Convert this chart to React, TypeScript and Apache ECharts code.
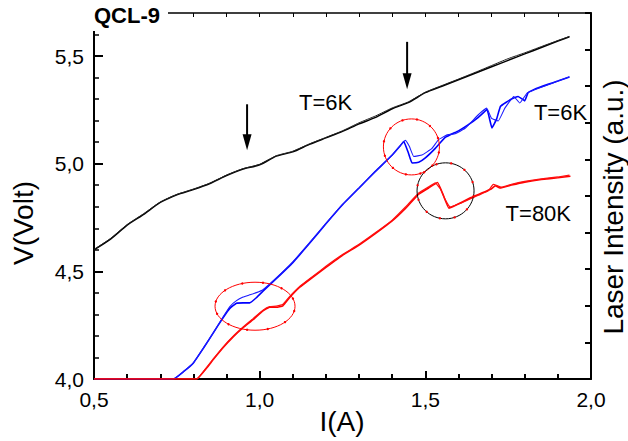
import React, { useEffect, useRef } from "react";
import * as echarts from "echarts";

// ---- data (I in A, V in Volt / laser intensity in a.u.) ----
const blackTraceA: number[][] = [
  [0.5, 4.6], [0.55, 4.65], [0.6, 4.715], [0.65, 4.765], [0.7, 4.82], [0.75, 4.856], [0.8, 4.88],
  [0.85, 4.908], [0.9, 4.945], [0.95, 4.975], [1.0, 4.995], [1.05, 5.035], [1.1, 5.055], [1.15, 5.09],
  [1.2, 5.12], [1.25, 5.15], [1.3, 5.185], [1.35, 5.215], [1.4, 5.255], [1.45, 5.285], [1.5, 5.33],
  [1.55, 5.36], [1.6, 5.39], [1.65, 5.42], [1.7, 5.45], [1.75, 5.48], [1.8, 5.51], [1.85, 5.54],
  [1.9, 5.57], [1.935, 5.59],
];
const blackTraceB: number[][] = [
  [0.5, 4.602], [0.55, 4.653], [0.6, 4.717], [0.65, 4.768], [0.7, 4.822], [0.75, 4.857], [0.8, 4.882],
  [0.85, 4.91], [0.9, 4.947], [0.95, 4.977], [1.0, 4.997], [1.05, 5.037], [1.1, 5.058], [1.15, 5.092],
  [1.2, 5.122], [1.25, 5.153], [1.3, 5.19], [1.35, 5.222], [1.4, 5.259], [1.45, 5.288], [1.5, 5.332],
  [1.55, 5.363], [1.6, 5.393], [1.65, 5.424], [1.7, 5.456], [1.75, 5.488], [1.8, 5.515], [1.85, 5.544],
  [1.9, 5.572], [1.935, 5.591],
];
const blueTraceA: number[][] = [
  [0.5, 0], [0.6, 0], [0.7, 0], [0.74, 0], [0.77, 0.2], [0.8, 0.44], [0.83, 0.84], [0.86, 1.26],
  [0.89, 1.68], [0.91, 1.93], [0.93, 2.07], [0.95, 2.08], [0.97, 2.08], [0.99, 2.22], [1.01, 2.4],
  [1.05, 2.74], [1.1, 3.18], [1.15, 3.7], [1.2, 4.24], [1.25, 4.76], [1.3, 5.22], [1.35, 5.68],
  [1.4, 6.12], [1.425, 6.38], [1.435, 6.49], [1.448, 6.2], [1.46, 5.9], [1.48, 5.92], [1.5, 6.04],
  [1.53, 6.3], [1.56, 6.6], [1.6, 6.78], [1.63, 6.95], [1.66, 7.15], [1.686, 7.36], [1.701, 6.86],
  [1.715, 7.1], [1.727, 7.45], [1.76, 7.65], [1.78, 7.72], [1.8, 7.6], [1.81, 7.82], [1.83, 7.92],
  [1.87, 8.05], [1.9, 8.14], [1.935, 8.25],
];
const blueTraceB: number[][] = [
  [0.5, 0], [0.74, 0], [0.77, 0.2], [0.8, 0.44], [0.83, 0.84], [0.86, 1.26], [0.89, 1.7], [0.91, 1.98],
  [0.93, 2.14], [0.95, 2.24], [0.97, 2.3], [0.99, 2.36], [1.01, 2.44], [1.05, 2.76], [1.1, 3.2],
  [1.15, 3.72], [1.2, 4.25], [1.25, 4.77], [1.3, 5.22], [1.35, 5.68], [1.4, 6.12], [1.428, 6.42],
  [1.44, 6.52], [1.452, 6.35], [1.465, 6.08], [1.49, 6.12], [1.52, 6.3], [1.54, 6.54], [1.566, 6.67],
  [1.59, 6.7], [1.62, 6.85], [1.66, 7.22], [1.685, 7.4], [1.7, 7.12], [1.72, 7.05], [1.74, 7.4],
  [1.767, 7.72], [1.785, 7.54], [1.807, 7.81], [1.83, 7.9], [1.87, 8.04], [1.9, 8.14], [1.935, 8.26],
];
const redTraceA: number[][] = [
  [0.5, 0], [0.7, 0], [0.81, 0], [0.84, 0.3], [0.86, 0.53], [0.89, 0.86], [0.92, 1.15], [0.95, 1.4],
  [0.98, 1.62], [1.01, 1.86], [1.03, 1.96], [1.05, 1.96], [1.07, 2.0], [1.09, 2.22], [1.12, 2.5],
  [1.16, 2.78], [1.2, 3.05], [1.25, 3.38], [1.3, 3.66], [1.35, 3.98], [1.4, 4.32], [1.44, 4.66],
  [1.48, 5.05], [1.51, 5.22], [1.537, 5.37], [1.553, 5.05], [1.571, 4.67], [1.59, 4.74], [1.636, 4.95],
  [1.67, 5.08], [1.7, 5.2], [1.711, 5.28], [1.725, 5.22], [1.76, 5.3], [1.8, 5.38], [1.85, 5.45],
  [1.9, 5.5], [1.938, 5.54],
];
const redTraceB: number[][] = [
  [0.5, 0], [0.81, 0], [0.84, 0.32], [0.86, 0.55], [0.89, 0.88], [0.92, 1.17], [0.95, 1.42],
  [0.98, 1.65], [1.01, 1.88], [1.03, 1.98], [1.05, 1.99], [1.07, 2.04], [1.09, 2.25], [1.12, 2.52],
  [1.16, 2.8], [1.2, 3.08], [1.25, 3.4], [1.3, 3.68], [1.35, 4.0], [1.4, 4.34], [1.44, 4.7],
  [1.48, 5.08], [1.51, 5.25], [1.53, 5.36], [1.545, 5.2], [1.56, 4.9], [1.575, 4.7], [1.6, 4.78],
  [1.63, 4.9], [1.66, 5.02], [1.69, 5.14], [1.705, 5.32], [1.73, 5.24], [1.76, 5.32], [1.8, 5.4],
  [1.85, 5.47], [1.9, 5.52], [1.935, 5.57],
];

// annotations (data coordinates on the V axis)
const arrows: number[][][] = [
  [[0.962, 5.276], [0.962, 5.062]],
  [[1.445, 5.566], [1.445, 5.346]],
];
const circles = [
  { c: [1.458, 5.078], stroke: "#ff0000" },
  { c: [1.561, 4.874], stroke: "#000000" },
  { c: [0.986, 4.338], stroke: "#ff0000" },
];
const circleRadii = [[28, 28], [28.5, 28], [40, 24]];
const curveLabels = [
  { text: "T=6K", at: [1.199, 5.284] },
  { text: "T=6K", at: [1.908, 5.236] },
  { text: "T=80K", at: [1.841, 4.771] },
];

const FONT = "'Liberation Sans', Arial, Helvetica, sans-serif";
const comma = (v: number) => v.toFixed(1).replace(".", ",");

export default function App() {
  const ref = useRef<HTMLDivElement>(null);
  useEffect(() => {
    if (!ref.current) return;
    document.body.style.margin = "0";
    const chart = echarts.init(ref.current, undefined, { renderer: "svg" });
    const tickColor = "#000";
    const line = (data: number[][], color: string, yi: number, w: number, smooth = 0) => ({
      type: "line",
      data,
      xAxisIndex: 0,
      yAxisIndex: yi,
      showSymbol: false,
      symbol: "none",
      smooth,
      lineStyle: { color, width: w },
      silent: true,
    });
    chart.setOption({
      animation: false,
      grid: { left: 94, right: 37, top: 13, bottom: 62 },
      xAxis: [
        {
          type: "value", position: "bottom", min: 0.5, max: 2.0, interval: 0.5,
          axisLine: { lineStyle: { color: tickColor, width: 2 } },
          axisTick: { inside: true, length: 8, lineStyle: { color: tickColor, width: 2 } },
          minorTick: { show: true, splitNumber: 5, length: 5, lineStyle: { color: tickColor, width: 2 } },
          axisLabel: { formatter: comma, fontSize: 21, color: "#000", fontFamily: FONT, margin: 10 },
          splitLine: { show: false },
        },
        {
          type: "value", position: "top", min: 0.5, max: 2.0, interval: 0.1,
          axisLine: { lineStyle: { color: tickColor, width: 1.5 } },
          axisTick: { inside: true, length: 4, lineStyle: { color: tickColor, width: 1 } },
          axisLabel: { show: false },
          splitLine: { show: false },
        },
      ],
      yAxis: [
        {
          type: "value", position: "left", min: 4.0, max: 5.7, interval: 0.1,
          axisLine: { lineStyle: { color: tickColor, width: 2 } },
          axisTick: { inside: true, length: 5, lineStyle: { color: tickColor, width: 1.5 } },
          axisLabel: {
            formatter: (v: number) => {
              const k = Math.round(v * 10);
              return k % 5 === 0 ? comma(k / 10) : "";
            },
            fontSize: 21, color: "#000", fontFamily: FONT, margin: 10,
          },
          splitLine: { show: false },
        },
        {
          type: "value", position: "right", min: 0, max: 10, interval: 1,
          axisLine: { lineStyle: { color: tickColor, width: 2 } },
          axisTick: { inside: true, length: 6, lineStyle: { color: tickColor, width: 2 } },
          axisLabel: { show: false },
          splitLine: { show: false },
        },
        {
          type: "value", position: "left", min: 4.0, max: 5.7, interval: 0.5,
          axisLine: { show: false },
          axisTick: { inside: true, length: 9, lineStyle: { color: tickColor, width: 2 } },
          axisLabel: { show: false },
          splitLine: { show: false },
        },
      ],
      series: [
        line(blackTraceA, "#000000", 0, 1.5, 0.2),
        line(blackTraceB, "#222222", 0, 1.0, 0.2),
        line(blueTraceA, "#0000ff", 1, 1.6, 0.1),
        line(blueTraceB, "#1a1aff", 1, 1.1, 0.1),
        line(redTraceA, "#ff0000", 1, 1.6, 0.1),
        line(redTraceB, "#ff1010", 1, 1.2, 0.1),
      ],
    });

    const px = (p: number[]) =>
      chart.convertToPixel({ xAxisIndex: 0, yAxisIndex: 0 }, p) as number[];
    const g: any[] = [];
    // title box
    g.push({ type: "rect", shape: { x: 82, y: 0, width: 86, height: 31 }, style: { fill: "#fff" }, z: 100 });
    g.push({
      type: "text", x: 94, y: 15, z: 101,
      style: { text: "QCL-9", font: `bold 22px ${FONT}`, fill: "#000", align: "left", verticalAlign: "middle" },
    });
    // axis titles
    g.push({
      type: "text", x: 342, y: 421, z: 101,
      style: { text: "I(A)", font: `28px ${FONT}`, fill: "#000", align: "center", verticalAlign: "middle" },
    });
    g.push({
      type: "text", x: 23, y: 223, rotation: Math.PI / 2, z: 101,
      style: { text: "V(Volt)", font: `28px ${FONT}`, fill: "#000", align: "center", verticalAlign: "middle" },
    });
    g.push({
      type: "text", x: 613, y: 207, rotation: Math.PI / 2, z: 101,
      style: { text: "Laser Intensity (a.u.)", font: `28px ${FONT}`, fill: "#000", align: "center", verticalAlign: "middle" },
    });
    // curve labels
    curveLabels.forEach((l) => {
      const [x, y] = px(l.at);
      g.push({
        type: "text", x, y, z: 101,
        style: { text: l.text, font: `22px ${FONT}`, fill: "#000", align: "center", verticalAlign: "middle" },
      });
    });
    // arrows
    arrows.forEach(([a, b]) => {
      const [x1, y1] = px(a);
      const [x2, y2] = px(b);
      const head = 16;
      g.push({
        type: "line", z: 101,
        shape: { x1, y1, x2, y2: y2 - head + 2 },
        style: { stroke: "#000", lineWidth: 2 },
      });
      g.push({
        type: "polygon", z: 101,
        shape: { points: [[x2 - 4.5, y2 - head], [x2 + 4.5, y2 - head], [x2, y2]] },
        style: { fill: "#000" },
      });
    });
    // circles
    circles.forEach((c, i) => {
      const [cx, cy] = px(c.c);
      const [rx, ry] = circleRadii[i];
      g.push({
        type: "ellipse", z: 102,
        shape: { cx, cy, rx, ry },
        style: { fill: "none", stroke: c.stroke, lineWidth: 1 },
      });
      for (let k = 0; k < 12; k++) {
        const t = (k / 12) * Math.PI * 2 + 0.2;
        g.push({
          type: "circle", z: 103,
          shape: { cx: cx + rx * Math.cos(t), cy: cy + ry * Math.sin(t), r: 1.2 },
          style: { fill: "#ff0000" },
        });
      }
    });
    chart.setOption({ graphic: { elements: g } });
    return () => chart.dispose();
  }, []);
  return (
    <div
      ref={ref}
      style={{ position: "absolute", left: 0, top: 0, width: 628, height: 441, background: "#fff" }}
    />
  );
}
